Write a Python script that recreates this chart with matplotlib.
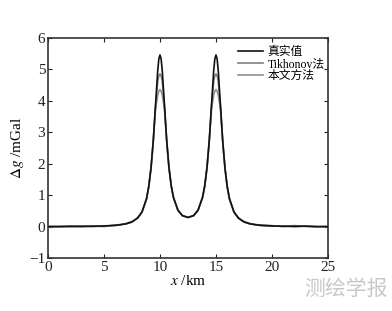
import matplotlib
matplotlib.use("Agg")
import matplotlib.pyplot as plt

plt.rcParams['font.family'] = ['Liberation Serif', 'Noto Sans CJK SC', 'DejaVu Sans']
plt.rcParams['mathtext.fontset'] = 'stix'

x_km = [0, 1, 2, 3, 4, 5, 6, 6.5, 7, 7.5, 8, 8.4, 8.8, 9.0, 9.2, 9.4, 9.6, 9.8, 9.9, 10.0,
        10.1, 10.2, 10.4, 10.6, 10.8, 11.0, 11.2, 11.6, 12.0, 12.5, 13.0, 13.4, 13.8, 14.0,
        14.2, 14.4, 14.6, 14.8, 14.9, 15.0, 15.1, 15.2, 15.4, 15.6, 15.8, 16.0, 16.2, 16.6,
        17.0, 17.5, 18, 18.5, 19, 20, 21, 22, 23, 24, 25]

true_vals = [0.00, 0.00, 0.01, 0.01, 0.01, 0.02, 0.04, 0.06, 0.09, 0.15, 0.27, 0.47, 0.89, 1.28,
             1.87, 2.73, 3.86, 4.97, 5.34, 5.46, 5.34, 4.98, 3.87, 2.74, 1.89, 1.31, 0.93, 0.52,
             0.35, 0.29, 0.35, 0.52, 0.93, 1.31, 1.89, 2.74, 3.87, 4.98, 5.34, 5.46, 5.34, 4.97,
             3.86, 2.73, 1.87, 1.28, 0.89, 0.47, 0.27, 0.15, 0.09, 0.06, 0.04, 0.02, 0.01, 0.01,
             0.01, 0.00, 0.00]

tikhonov_vals = [0.00, -0.01, 0.01, -0.01, 0.02, 0.00, 0.05, 0.06, 0.10, 0.16, 0.27, 0.47, 0.88,
                 1.27, 1.86, 2.72, 3.82, 4.62, 4.80, 4.86, 4.80, 4.63, 3.83, 2.73, 1.88, 1.30,
                 0.93, 0.52, 0.35, 0.29, 0.35, 0.52, 0.93, 1.30, 1.88, 2.73, 3.83, 4.63, 4.80,
                 4.86, 4.80, 4.62, 3.82, 2.72, 1.86, 1.27, 0.88, 0.47, 0.27, 0.16, 0.10, 0.06,
                 0.05, 0.03, 0.00, 0.03, 0.01, -0.01, 0.00]

proposed_vals = [0.00, 0.01, -0.01, 0.01, 0.00, 0.02, 0.03, 0.07, 0.09, 0.14, 0.28, 0.46, 0.89,
                 1.28, 1.86, 2.71, 3.74, 4.18, 4.31, 4.36, 4.31, 4.19, 3.75, 2.72, 1.87, 1.30,
                 0.92, 0.53, 0.34, 0.30, 0.34, 0.53, 0.92, 1.30, 1.87, 2.72, 3.75, 4.19, 4.31,
                 4.36, 4.31, 4.18, 3.74, 2.71, 1.86, 1.28, 0.89, 0.46, 0.28, 0.14, 0.09, 0.07,
                 0.03, 0.01, 0.02, -0.01, 0.02, 0.00, 0.00]

labels = ['真实值', 'Tikhonov法', '本文方法']
x_ticks = [0, 5, 10, 15, 20, 25]
y_ticks = [-1, 0, 1, 2, 3, 4, 5, 6]

fig = plt.figure(figsize=(3.92, 3.11), dpi=100)
ax = fig.add_axes([0.1224, 0.1704, 0.7143, 0.7074])

ax.plot(x_km, proposed_vals, color='#909090', lw=1.2, label=labels[2], zorder=2)
ax.plot(x_km, tikhonov_vals, color='#808080', lw=1.2, label=labels[1], zorder=3)
ax.plot(x_km, true_vals, color='#111111', lw=1.2, label=labels[0], zorder=4)

ax.set_xlim(0, 25)
ax.set_ylim(-1, 6)
ax.set_xticks(x_ticks)
ax.set_yticks(y_ticks)
ax.set_yticklabels(['\u22121' if t == -1 else str(t) for t in y_ticks])
ax.tick_params(direction='in', top=True, right=True, length=3, width=0.8,
               labelsize=11, colors='#222222', pad=2)
for s in ax.spines.values():
    s.set_color('#333333')
    s.set_linewidth(1.2)

ax.set_xlabel(r'$x$ /km', fontsize=11, labelpad=0)
ax.set_ylabel(r'$\Delta g$ /mGal', fontsize=11, labelpad=2)

h, l = ax.get_legend_handles_labels()
order = [2, 1, 0]
ax.legend([h[i] for i in order], [l[i] for i in order], loc='upper right', frameon=False,
          fontsize=8.5, handlelength=2.1, handletextpad=0.35, labelspacing=0.0,
          borderaxespad=0.0, borderpad=0.3, bbox_to_anchor=(1.0, 0.98))

fig.text(0.99, 0.035, '测绘学报', fontsize=15, color='#c8c8c8', ha='right', va='bottom',
         family=['Noto Sans CJK SC'])

fig.savefig('out.png', dpi=100, facecolor='white')
